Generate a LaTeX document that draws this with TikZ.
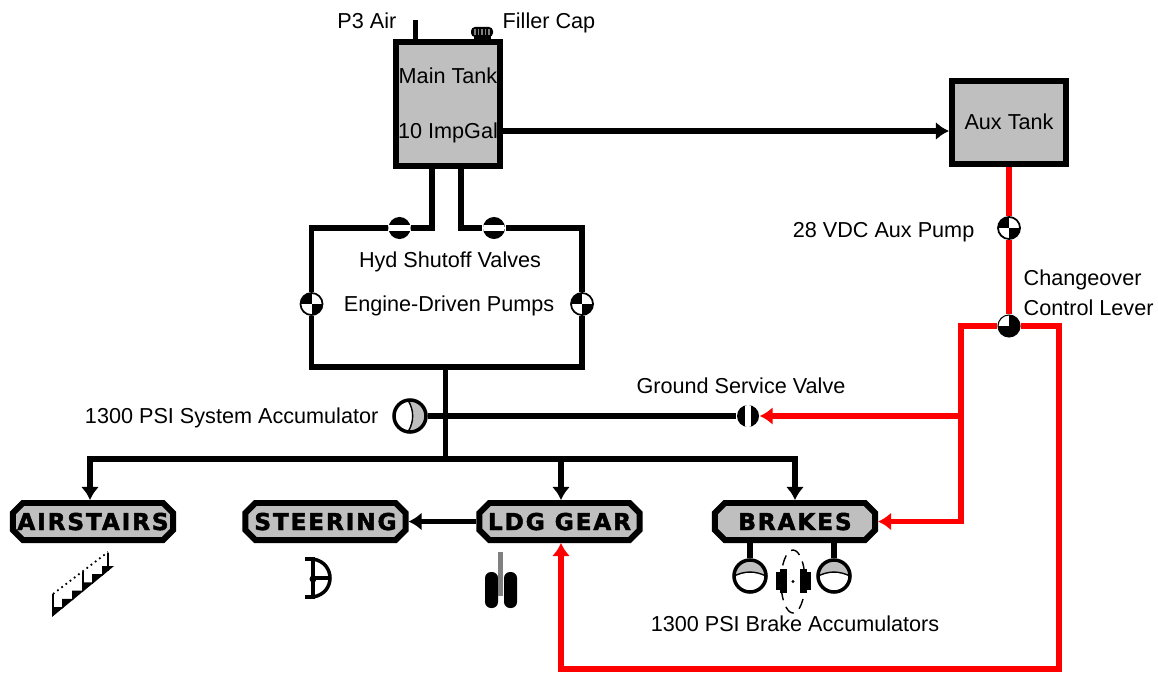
\documentclass[tikz,border=0pt]{standalone}
\usepackage{fontspec}
\setmainfont{Liberation Sans}
\newfontfamily\boxfont[LetterSpace=8,BoldFeatures={FakeBold=2}]{DejaVu Sans}
\usetikzlibrary{arrows.meta,backgrounds,shapes.misc}

\definecolor{tankgray}{rgb}{0.75,0.75,0.75}
\definecolor{oilred}{rgb}{1,0,0}

\newcommand{\boxname}[1]{\makebox[1.50cm]{\rule[-0.05cm]{0pt}{0.27cm}#1}}

\tikzset{
	pipe/.style={line width=1.7pt,color=black},
	redpipe/.style={line width=1.7pt,color=oilred},
	tank/.style={draw,line width=1.7pt,fill=tankgray,inner sep=0pt},
	system/.style={draw,line width=1.7pt,fill=tankgray,chamfered rectangle,chamfered rectangle xsep=0.05cm,chamfered rectangle ysep=0.05cm,inner sep=0pt,font=\boxfont\bfseries\fontsize{6.6pt}{7pt}\selectfont},
	caption/.style={font=\fontsize{6.15pt}{7pt}\selectfont,inner sep=0pt,text height=0.155cm,text depth=0pt},
	pump/.style={circle,draw,line width=0.5pt,fill=white,inner sep=0pt,minimum size=0.22cm,path picture={
		\fill[black] (path picture bounding box.center) rectangle (path picture bounding box.north west);
		\fill[black] (path picture bounding box.center) rectangle (path picture bounding box.south east);
	}},
	lever/.style={circle,draw,line width=0.3pt,fill=black,inner sep=0pt,minimum size=0.22cm,path picture={
		\fill[white] (path picture bounding box.center) rectangle (path picture bounding box.north west);
	}},
	shutoff/.style={circle,fill=black,inner sep=0pt,minimum size=0.22cm,path picture={
		\fill[white] ([yshift=0.03cm]path picture bounding box.west) rectangle ([yshift=-0.03cm]path picture bounding box.east);
	}},
	service/.style={circle,fill=black,inner sep=0pt,minimum size=0.22cm,path picture={
		\fill[white] ([xshift=-0.03cm]path picture bounding box.north) rectangle ([xshift=0.03cm]path picture bounding box.south);
	}},
	sysaccum/.style={circle,draw,line width=1pt,fill=white,inner sep=0pt,minimum size=0.32cm,path picture={
		\fill[tankgray] ([xshift=-0.02cm]path picture bounding box.north) to[bend left=30] ([xshift=-0.02cm]path picture bounding box.south) -- (path picture bounding box.south east) -- (path picture bounding box.north east) -- cycle;
		\draw[line width=0.4pt,black] ([xshift=-0.02cm]path picture bounding box.north) to[bend left=30] ([xshift=-0.02cm]path picture bounding box.south);
	}},
	brakeaccum/.style={circle,draw,line width=1pt,fill=white,inner sep=0pt,minimum size=0.32cm,path picture={
		\fill[tankgray] (path picture bounding box.west) to[bend left=25] (path picture bounding box.east) -- (path picture bounding box.north east) -- (path picture bounding box.north west) -- cycle;
		\draw[line width=0.4pt,black] (path picture bounding box.west) to[bend left=25] (path picture bounding box.east);
	}}
}

\begin{document}
\begin{tikzpicture}[>={Latex[length=0.13cm,width=0.18cm]},x=0.01cm,y=-0.01cm]

\useasboundingbox (0,0) rectangle (1158,673);

\node[tank,minimum width=1.04cm,minimum height=1.24cm] (maintank) at (448,104) {};
\node[tank,minimum width=1.14cm,minimum height=0.83cm] (auxtank) at (1009,122.5) {};

\node[caption] at (448,75.5) {Main Tank};
\node[caption] (tankvolume) at (448,131) {10 ImpGal};
\node[caption] at (1009,122) {Aux Tank};

\node[shutoff] (valveleft) at (399.5,228) {};
\node[shutoff] (valveright) at (494,228) {};
\node[pump] (pumpleft) at (311.5,304) {};
\node[pump] (pumpright) at (582,304) {};
\node[pump] (auxpump) at (1009,228) {};
\node[lever] (changeover) at (1009,326) {};
\node[sysaccum] (sysaccumulator) at (410,416) {};
\node[service] (groundvalve) at (748,416) {};

\node[system] (airstairs) at (93,521.5) {\boxname{AIRSTAIRS}};
\node[system] (steering) at (325.5,521.5) {\boxname{STEERING}};
\node[system] (ldggear) at (559.5,521.5) {\boxname{LDG GEAR}};
\node[system] (brakes) at (795,521.5) {\boxname{BRAKES}};

\node[brakeaccum] (accumleft) at (750,576) {};
\node[brakeaccum] (accumright) at (834,576) {};

\coordinate (feedleft) at (432,228);
\coordinate (feedright) at (461,228);
\coordinate (cornerleft) at (311.5,367);
\coordinate (cornerright) at (582,367);
\coordinate (trunktop) at (445.5,367);
\coordinate (trunkbottom) at (445.5,459);
\coordinate (busleft) at (90,459);
\coordinate (busgear) at (561,459);
\coordinate (redleft) at (961,326);
\coordinate (redright) at (1059,326);
\coordinate (redbottom) at (1059,669);
\coordinate (redgear) at (561,669);

\begin{scope}[on background layer]
\draw[pipe,->] (tankvolume) -- (tankvolume -| auxtank.west);
\draw[pipe] (maintank.south -| feedleft) -- (feedleft) -- (valveleft) -- (valveleft -| pumpleft) -- (pumpleft) -- (cornerleft) -- (cornerright) -- (pumpright) -- (valveright -| pumpright) -- (valveright) -- (feedright) -- (maintank.south -| feedright);
\draw[pipe] (trunktop) -- (trunkbottom);
\draw[pipe] (sysaccumulator) -- (groundvalve);
\draw[pipe,->] (trunkbottom) -- (busleft) -- (busleft |- airstairs.north);
\draw[pipe,->] (trunkbottom) -- (trunkbottom -| brakes) -- (brakes.north);
\draw[pipe,->] (busgear) -- (busgear |- ldggear.north);
\draw[pipe,->] (ldggear.west) -- (steering.east);
\draw[pipe] (accumleft) -- (accumleft |- brakes.south);
\draw[pipe] (accumright) -- (accumright |- brakes.south);
\draw[redpipe] (auxtank.south) -- (auxpump) -- (changeover);
\draw[redpipe,->] (changeover) -- (redleft) -- (redleft |- brakes) -- (brakes.east);
\draw[redpipe,->] (redleft |- groundvalve) -- (groundvalve.east);
\draw[redpipe,->] (changeover) -- (redright) -- (redbottom) -- (redgear) -- (redgear |- ldggear.south);
\end{scope}

\node[caption,anchor=east] at (397,21) {P3 Air};
\node[caption,anchor=west] at (502,21) {Filler Cap};
\node[caption,anchor=east] at (975,230) {28 VDC Aux Pump};
\node[caption,anchor=west] at (1023,277.5) {Changeover};
\node[caption,anchor=west] at (1023,307.5) {Control Lever};
\node[caption] at (450,260) {Hyd Shutoff Valves};
\node[caption] at (449,304) {Engine-Driven Pumps};
\node[caption] at (741,386) {Ground Service Valve};
\node[caption,anchor=east] at (379,416) {1300 PSI System Accumulator};
\node[caption] at (795,624) {1300 PSI Brake Accumulators};

% air line and filler cap
\draw[line width=1.3pt] (415.5,40)--(415.5,24);
\fill (413,20) rectangle (418,25);
\fill (474,36) rectangle (491,40);
\fill[color=black,rounded corners=0.04cm] (471,27) rectangle (493,37);
\foreach \s in {475,478.5,...,490}{
	\draw[line width=0.4pt,color=gray] (\s,29)--(\s,35);
}

% airstairs
\foreach \s in {0,...,5}{
	\fill ({52+10*\s},{617-8.2*\s})--++(0,-10)--++(12,0)--cycle;
}
\draw[line width=0.5pt,densely dotted] (53,594)--(108,552);
\foreach \s/\t in {53/594,83/572,108/553}{
	\draw[line width=0.5pt] (\s,\t)--(\s,{\t+18});
}

% steering
\draw[line width=1pt] (305,559)--(313,559)--(313,597)--(305,597);
\draw[line width=1pt] (313,559) .. controls (325,561) and (330,570) .. (330,578) .. controls (330,586) and (325,595) .. (313,597);
\draw[line width=1pt] (313,578)--(330,578);
\fill (313,579) circle (3.5);

% main gear
\fill[rounded corners=0.06cm] (485,572) rectangle (498,608);
\fill[rounded corners=0.06cm] (504,572) rectangle (517,608);
\draw[line width=1.2pt,color=gray] (500.5,552)--(500.5,596);

% brake
\fill (780,569) rectangle (787,593);
\fill (776,572) rectangle (780,590);
\fill (800,569) rectangle (807,593);
\fill (807,572) rectangle (811,590);
\draw[line width=0.4pt,densely dashed] (793,581.5) ellipse (12 and 31.5);
\fill (793,581.5) circle (1.7);

\end{tikzpicture}
\end{document}
